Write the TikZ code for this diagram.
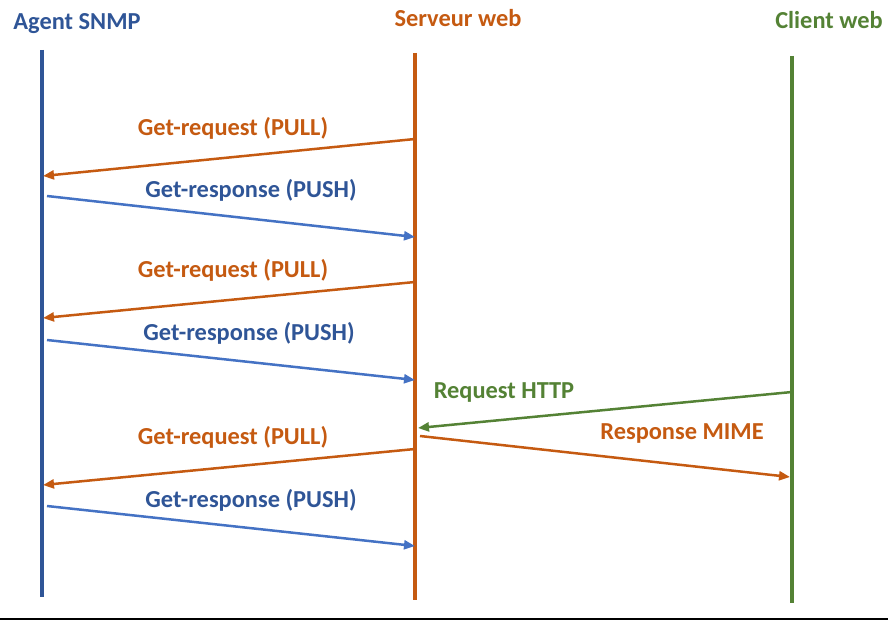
\documentclass[tikz,border=0pt]{standalone}
\usepackage{fontspec}
\setmainfont{Carlito}
\usepackage{tikz}
\usetikzlibrary{arrows.meta, positioning}

\definecolor{agentblue}{HTML}{2F5597}
\definecolor{pushblue}{HTML}{4472C4}
\definecolor{webor}{HTML}{C55A11}
\definecolor{webgreen}{HTML}{548235}

\begin{document}
\begin{tikzpicture}[x=1pt, y=-1pt, >={Triangle[length=11pt, width=9pt]},
  font=\fontsize{24.4}{28}\selectfont\bfseries,
  lifeline/.style={line width=4pt},
  msg/.style={->, line width=2.5pt},
  lbl/.style={inner sep=0pt}]

\useasboundingbox (0,0) rectangle (888,620);

% lifelines
\coordinate (agent-top) at (42,50);
\coordinate (agent-bot) at (42,597);
\coordinate (server-top) at (415,53);
\coordinate (server-bot) at (415,600);
\coordinate (client-top) at (792,56);
\coordinate (client-bot) at (792,603);

\draw[lifeline, agentblue] (agent-top) -- (agent-bot);
\draw[lifeline, webor] (server-top) -- (server-bot);
\draw[lifeline, webgreen] (client-top) -- (client-bot);

\node[lbl, text=agentblue] (agent) at (77,24) {Agent SNMP};
\node[lbl, text=webor] (server) at (458,18) {Serveur web};
\node[lbl, text=webgreen] (client) at (829,20) {Client web};

% message ends
\coordinate (s1) at (415,139); \coordinate (a1) at (43,176);
\coordinate (a2) at (47,196);  \coordinate (s2) at (415,237);
\coordinate (s3) at (415,282); \coordinate (a3) at (43,318);
\coordinate (a4) at (47,340);  \coordinate (s4) at (415,380);
\coordinate (c1) at (792,392); \coordinate (s5) at (418,428);
\coordinate (s6) at (420,436); \coordinate (c2) at (790,477);
\coordinate (s7) at (415,449); \coordinate (a7) at (43,485);
\coordinate (a8) at (47,506);  \coordinate (s8) at (415,546);

\draw[msg, webor] (s1) -- (a1);
\draw[msg, pushblue] (a2) -- (s2);
\draw[msg, webor] (s3) -- (a3);
\draw[msg, pushblue] (a4) -- (s4);
\draw[msg, webgreen] (c1) -- (s5);
\draw[msg, webor] (s6) -- (c2);
\draw[msg, webor] (s7) -- (a7);
\draw[msg, pushblue] (a8) -- (s8);

\node[lbl, text=webor] (pull1) at (233,128) {Get-request (PULL)};
\node[lbl, text=agentblue] (push1) at (251,190) {Get-response (PUSH)};
\node[lbl, text=webor] (pull2) at (233,270) {Get-request (PULL)};
\node[lbl, text=agentblue] (push2) at (249,333) {Get-response (PUSH)};
\node[lbl, text=webgreen] (http) at (504,393) {Request HTTP};
\node[lbl, text=webor] (mime) at (682,434) {Response MIME};
\node[lbl, text=webor] (pull3) at (233,437) {Get-request (PULL)};
\node[lbl, text=agentblue] (push3) at (251,500) {Get-response (PUSH)};

% bottom rule
\coordinate (rule-l) at (0,619);
\coordinate (rule-r) at (888,619);
\draw[line width=1.5pt] (rule-l) -- (rule-r);

\end{tikzpicture}
\end{document}
